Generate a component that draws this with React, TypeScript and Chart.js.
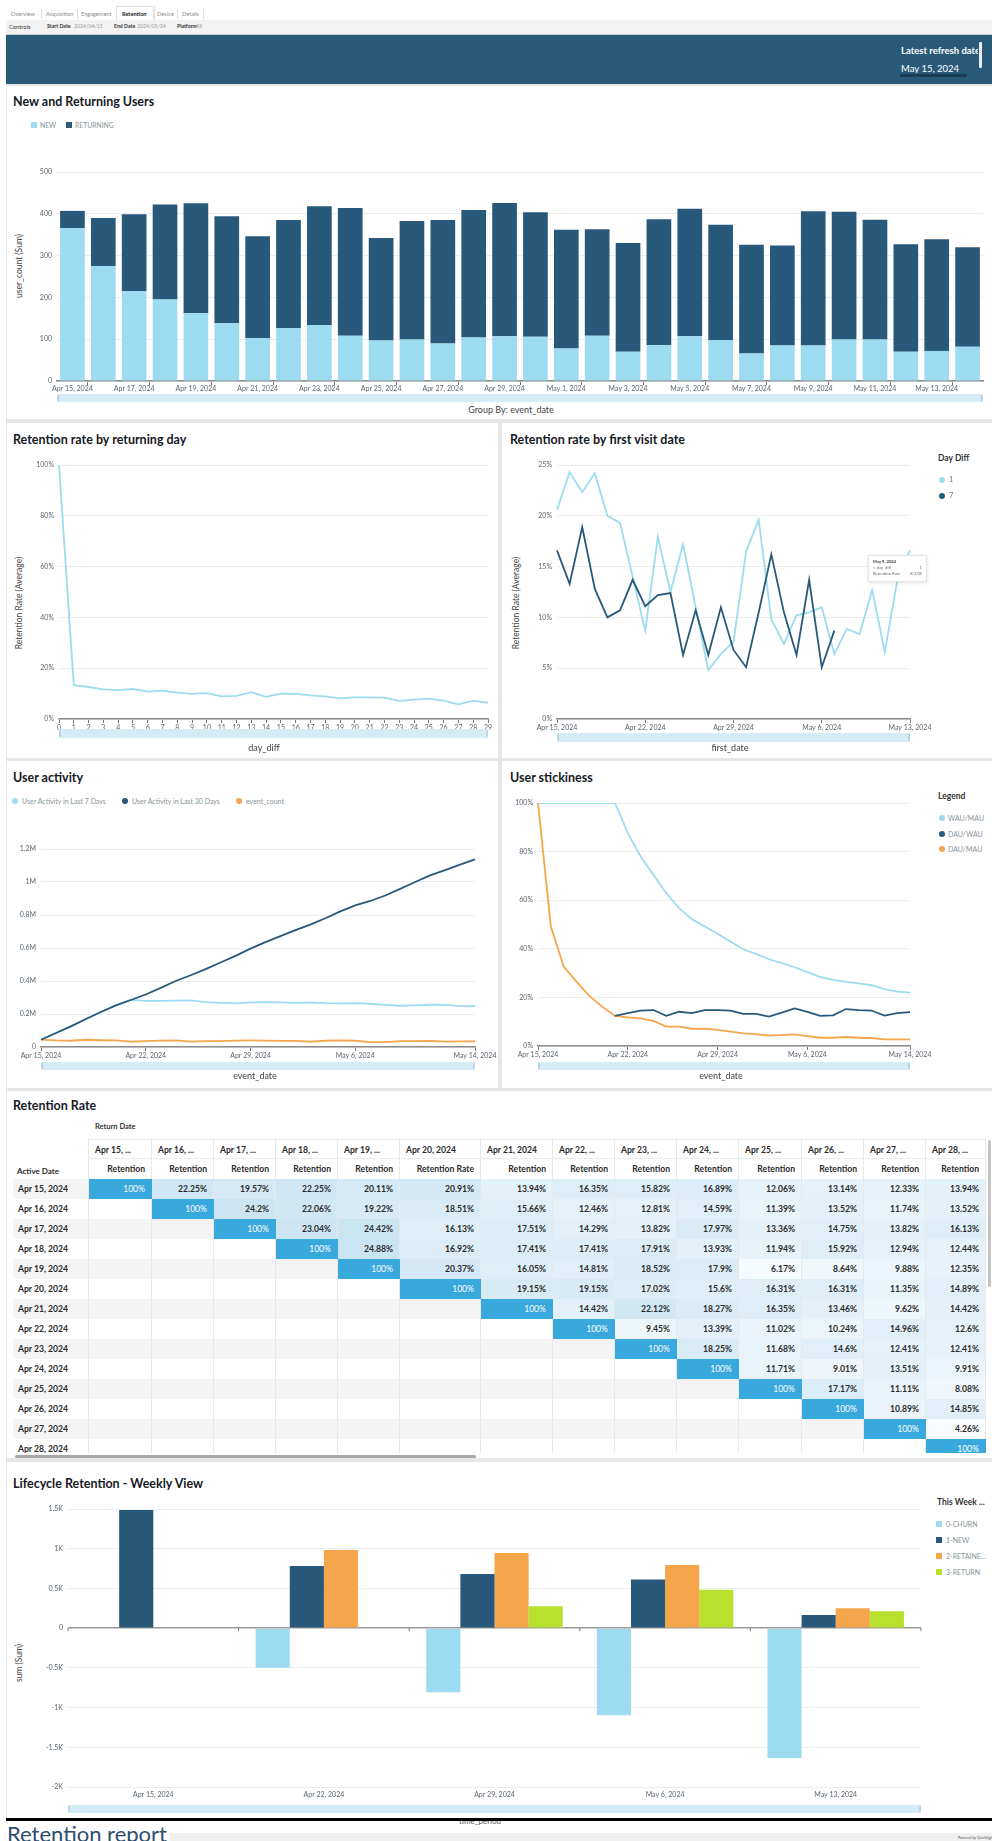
import React, { useEffect, useRef } from 'react';
import { Chart, registerables } from 'chart.js';
Chart.register(...registerables);

// ---------------- DATA ----------------
const dailyDates = ['Apr 15, 2024','Apr 16, 2024','Apr 17, 2024','Apr 18, 2024','Apr 19, 2024','Apr 20, 2024','Apr 21, 2024','Apr 22, 2024','Apr 23, 2024','Apr 24, 2024','Apr 25, 2024','Apr 26, 2024','Apr 27, 2024','Apr 28, 2024','Apr 29, 2024','Apr 30, 2024','May 1, 2024','May 2, 2024','May 3, 2024','May 4, 2024','May 5, 2024','May 6, 2024','May 7, 2024','May 8, 2024','May 9, 2024','May 10, 2024','May 11, 2024','May 12, 2024','May 13, 2024','May 14, 2024'];
const newReturningTicks = ['Apr 15, 2024','Apr 17, 2024','Apr 19, 2024','Apr 21, 2024','Apr 23, 2024','Apr 25, 2024','Apr 27, 2024','Apr 29, 2024','May 1, 2024','May 3, 2024','May 5, 2024','May 7, 2024','May 9, 2024','May 11, 2024','May 13, 2024'];
const newUsers = [366,275,215,195,162,138,103,126,134,108,97,99,90,104,107,106,78,108,70,86,107,98,66,85,85,99,99,70,72,82];
const returningUsers = [41,115,184,227,263,256,243,259,284,306,245,284,295,305,319,298,284,255,260,301,305,276,260,239,321,306,287,257,267,238];

const dayDiffs = ['0','1','2','3','4','5','6','7','8','9','10','11','12','13','14','15','16','17','18','19','20','21','22','23','24','25','26','27','28','29'];
const retentionByDay = [100,13.3,12.6,11.7,11.4,11.8,10.8,11.2,10.4,9.9,10.2,8.9,9.1,10.6,8.7,10.0,9.9,9.3,8.9,8.1,8.5,8.5,8.4,7.1,7.6,8.0,7.2,5.8,7.2,6.4];

const firstVisitDates = dailyDates.slice(0, 29);
const firstVisitTicks = ['Apr 15, 2024','Apr 22, 2024','Apr 29, 2024','May 6, 2024','May 13, 2024'];
const retentionDay1 = [20.6,24.3,22.3,24.2,20.0,19.3,14.0,8.7,17.9,12.5,17.2,11.0,4.8,6.4,7.6,16.5,19.6,9.8,7.4,10.2,10.5,11.0,6.4,8.9,8.33,12.7,6.6,13.7,16.6];
const retentionDay7 = [16.6,13.3,18.9,12.8,10.0,10.7,13.7,11.1,12.2,12.4,6.3,10.7,6.3,11.0,6.8,5.1,10.5,16.2,10.5,6.3,13.7,5.1,8.7,null,null,null,null,null,null];

const activityTicks = ['Apr 15, 2024','Apr 22, 2024','Apr 29, 2024','May 6, 2024','May 14, 2024'];
const activity7 = [44000,85000,125000,170000,212000,252000,285000,280000,279000,281000,282000,272000,268000,265000,270000,272000,271000,268000,270000,266000,265000,266000,262000,255000,250000,252000,256000,255000,248000,247000];
const activity30 = [44000,85000,125000,170000,212000,252000,285000,318000,358000,400000,435000,472000,512000,552000,596000,636000,672000,708000,742000,780000,822000,858000,885000,918000,958000,1000000,1040000,1072000,1105000,1137000];
const eventCount = [45000,40000,38000,44000,41000,40000,33000,36000,39000,40000,33000,36000,36000,39000,40000,39000,37000,37000,32000,38000,40000,38000,30000,29000,36000,36000,37000,33000,34000,34000];

const wauMau = [100,100,100,100,100,100,100,87.6,78.0,70.5,62.9,56.7,52.2,49.2,46.2,43.0,39.8,37.9,35.7,34.1,32.4,30.4,28.4,27.2,26.4,25.8,25.0,23.4,22.4,22.0];
const dauWau = [null,null,null,null,null,null,12.4,13.5,14.6,14.8,12.4,14.1,13.5,14.8,14.8,14.6,13.2,13.2,12.1,13.7,15.5,14.0,12.4,12.6,15.2,14.8,14.6,12.5,13.5,13.9];
const dauMau = [100,49.2,32.7,26.5,20.6,16.2,12.4,11.8,11.4,10.3,8.0,8.0,7.1,7.1,6.6,5.9,5.2,4.9,4.3,4.5,4.8,4.1,3.4,3.4,3.7,3.4,3.3,2.7,2.7,2.7];

const activeDates = ['Apr 15, 2024','Apr 16, 2024','Apr 17, 2024','Apr 18, 2024','Apr 19, 2024','Apr 20, 2024','Apr 21, 2024','Apr 22, 2024','Apr 23, 2024','Apr 24, 2024','Apr 25, 2024','Apr 26, 2024','Apr 27, 2024','Apr 28, 2024'];
const returnDateHeaders = ['Apr 15, ...','Apr 16, ...','Apr 17, ...','Apr 18, ...','Apr 19, ...','Apr 20, 2024','Apr 21, 2024','Apr 22, ...','Apr 23, ...','Apr 24, ...','Apr 25, ...','Apr 26, ...','Apr 27, ...','Apr 28, ...'];
const metricHeaders = ['Retention','Retention','Retention','Retention','Retention','Retention Rate','Retention','Retention','Retention','Retention','Retention','Retention','Retention','Retention'];
const _ = null;
const retentionRows = [
  [100,22.25,19.57,22.25,20.11,20.91,13.94,16.35,15.82,16.89,12.06,13.14,12.33,13.94],
  [_,100,24.2,22.06,19.22,18.51,15.66,12.46,12.81,14.59,11.39,13.52,11.74,13.52],
  [_,_,100,23.04,24.42,16.13,17.51,14.29,13.82,17.97,13.36,14.75,13.82,16.13],
  [_,_,_,100,24.88,16.92,17.41,17.41,17.91,13.93,11.94,15.92,12.94,12.44],
  [_,_,_,_,100,20.37,16.05,14.81,18.52,17.9,6.17,8.64,9.88,12.35],
  [_,_,_,_,_,100,19.15,19.15,17.02,15.6,16.31,16.31,11.35,14.89],
  [_,_,_,_,_,_,100,14.42,22.12,18.27,16.35,13.46,9.62,14.42],
  [_,_,_,_,_,_,_,100,9.45,13.39,11.02,10.24,14.96,12.6],
  [_,_,_,_,_,_,_,_,100,18.25,11.68,14.6,12.41,12.41],
  [_,_,_,_,_,_,_,_,_,100,11.71,9.01,13.51,9.91],
  [_,_,_,_,_,_,_,_,_,_,100,17.17,11.11,8.08],
  [_,_,_,_,_,_,_,_,_,_,_,100,10.89,14.85],
  [_,_,_,_,_,_,_,_,_,_,_,_,100,4.26],
  [_,_,_,_,_,_,_,_,_,_,_,_,_,100],
];

const weeks = ['Apr 15, 2024','Apr 22, 2024','Apr 29, 2024','May 6, 2024','May 13, 2024'];
const churnWeekly = [null,-500,-807,-1097,-1634];
const newWeekly = [1487,781,681,613,164];
const retainedWeekly = [null,983,945,794,252];
const returnWeekly = [null,null,277,483,214];

// ---------------- STYLE ----------------
const FONT = 'Lato, "Open Sans", "Noto Sans", sans-serif';
const LIGHT = '#9ddbf0';
const DARK = '#29597a';
const ORANGE = '#f5a64b';
const GREEN = '#b9e02d';
const TICK_C = '#5b6670';
const GRID = '#ececec';
const AXIS = '#8c8c8c';
const tickFont = { family: FONT, size: 7 };

type Box = { x: number; y: number; w: number; h: number };
type Plot = { l: number; t: number; r: number; b: number };

function ChartCanvas({ box, plot, make }: { box: Box; plot: Plot; make: () => any }) {
  const ref = useRef<HTMLCanvasElement | null>(null);
  useEffect(() => {
    const cfg = make();
    cfg.options = cfg.options || {};
    cfg.options.responsive = false;
    cfg.options.maintainAspectRatio = false;
    cfg.options.animation = false;
    cfg.options.devicePixelRatio = 1;
    cfg.options.layout = { padding: { top: plot.t - box.y, right: box.x + box.w - plot.r, left: 0, bottom: 0 } };
    cfg.options.scales.x.afterFit = (s: any) => { s.height = box.y + box.h - plot.b; };
    cfg.options.scales.y.afterFit = (s: any) => { s.width = plot.l - box.x; };
    cfg.options.plugins = { ...(cfg.options.plugins || {}), legend: { display: false }, tooltip: { enabled: false } };
    const chart = new Chart(ref.current as HTMLCanvasElement, cfg);
    return () => chart.destroy();
  }, []);
  return <canvas ref={ref} width={box.w} height={box.h} style={{ position: 'absolute', left: box.x, top: box.y, width: box.w, height: box.h }} />;
}

function T({ x, y, s = 9, w = 400, c = '#333', anchor = 'left', children, style = {} }: any) {
  const st: any = { position: 'absolute', top: y - s * 0.75, lineHeight: `${s * 1.5}px`, fontSize: s, fontWeight: w, color: c, whiteSpace: 'nowrap', fontFamily: FONT, ...style };
  if (anchor === 'left') st.left = x;
  else if (anchor === 'center') { st.left = x; st.transform = 'translateX(-50%)'; }
  else { st.right = 992 - x; }
  return <div style={st}>{children}</div>;
}

function YTitle({ x, y, text }: any) {
  return <div style={{ position: 'absolute', left: x, top: y, transform: 'translate(-50%,-50%) rotate(-90deg)', fontSize: 8.5, color: '#444', fontFamily: FONT, whiteSpace: 'nowrap' }}>{text}</div>;
}

function ScrollBar({ x1, x2, y, h = 8 }: any) {
  return (
    <div style={{ position: 'absolute', left: x1, top: y, width: x2 - x1, height: h, background: '#d5ebf6' }}>
      <div style={{ position: 'absolute', left: 0, top: 1, width: 2, height: h - 2, background: '#b9d6e6', borderRadius: 1 }} />
      <div style={{ position: 'absolute', right: 0, top: 1, width: 2, height: h - 2, background: '#b9d6e6', borderRadius: 1 }} />
    </div>
  );
}

function Dot({ x, y, c, sq = false }: any) {
  return <div style={{ position: 'absolute', left: x - 3, top: y - 3, width: 6, height: 6, borderRadius: sq ? 0 : 3, background: c }} />;
}

const labelTickCb = (labels: string[], show: string[]) => (v: any, i: number) => (show.includes(labels[i]) ? labels[i] : '');
const markColor = (labels: string[], show: string[]) => (ctx: any) => (show.includes(labels[ctx.index]) ? '#777' : 'rgba(0,0,0,0)');

function pct(v: any) { return v + '%'; }

// ---------------- CHART CONFIGS ----------------
const makeNewReturning = () => ({
  type: 'bar',
  data: {
    labels: dailyDates,
    datasets: [
      { label: 'NEW', data: newUsers, backgroundColor: LIGHT, stack: 's', barPercentage: 0.8, categoryPercentage: 1 },
      { label: 'RETURNING', data: returningUsers, backgroundColor: DARK, stack: 's', barPercentage: 0.8, categoryPercentage: 1 },
    ],
  },
  options: {
    scales: {
      x: {
        stacked: true,
        grid: { drawOnChartArea: false, tickLength: 4, color: (ctx: any) => (ctx.index % 2 === 1 ? '#777' : 'rgba(0,0,0,0)') },
        border: { color: AXIS, width: 1.5 },
        ticks: { autoSkip: false, maxRotation: 0, padding: 0, font: tickFont, color: TICK_C, callback: labelTickCb(dailyDates, newReturningTicks) },
      },
      y: {
        stacked: true, min: 0, max: 500,
        ticks: { stepSize: 100, font: tickFont, color: TICK_C, padding: 5 },
        grid: { color: GRID, drawTicks: false },
        border: { display: false },
      },
    },
  },
});

const makeByDay = () => ({
  type: 'line',
  data: { labels: dayDiffs, datasets: [{ data: retentionByDay, borderColor: LIGHT, borderWidth: 1.8, pointRadius: 0, tension: 0 }] },
  options: {
    scales: {
      x: {
        grid: { drawOnChartArea: false, tickLength: 4, color: '#777' },
        border: { color: AXIS, width: 1.5 },
        ticks: { autoSkip: false, maxRotation: 0, padding: 1, font: tickFont, color: TICK_C },
      },
      y: {
        min: 0, max: 100,
        ticks: { stepSize: 20, font: tickFont, color: TICK_C, padding: 5, callback: pct },
        grid: { color: GRID, drawTicks: false },
        border: { display: false },
      },
    },
  },
});

const makeFirstVisit = () => ({
  type: 'line',
  data: {
    labels: firstVisitDates,
    datasets: [
      { label: '1', data: retentionDay1, borderColor: LIGHT, borderWidth: 1.8, pointRadius: 0, tension: 0, order: 1 },
      { label: '7', data: retentionDay7, borderColor: DARK, borderWidth: 1.8, pointRadius: 0, tension: 0, order: 0 },
    ],
  },
  options: {
    scales: {
      x: {
        grid: { drawOnChartArea: false, tickLength: 4, color: markColor(firstVisitDates, firstVisitTicks) },
        border: { color: AXIS, width: 1.5 },
        ticks: { autoSkip: false, maxRotation: 0, padding: 1, font: tickFont, color: TICK_C, callback: labelTickCb(firstVisitDates, firstVisitTicks) },
      },
      y: {
        min: 0, max: 25,
        ticks: { stepSize: 5, font: tickFont, color: TICK_C, padding: 5, callback: pct },
        grid: { color: GRID, drawTicks: false },
        border: { display: false },
      },
    },
  },
});

const makeActivity = () => ({
  type: 'line',
  data: {
    labels: dailyDates,
    datasets: [
      { label: 'User Activity in Last 7 Days', data: activity7, borderColor: LIGHT, borderWidth: 1.8, pointRadius: 0, tension: 0, order: 1 },
      { label: 'User Activity in Last 30 Days', data: activity30, borderColor: DARK, borderWidth: 1.8, pointRadius: 0, tension: 0, order: 0 },
      { label: 'event_count', data: eventCount, borderColor: ORANGE, borderWidth: 1.8, pointRadius: 0, tension: 0, order: 2 },
    ],
  },
  options: {
    scales: {
      x: {
        grid: { drawOnChartArea: false, tickLength: 4, color: markColor(dailyDates, activityTicks) },
        border: { color: AXIS, width: 1.5 },
        ticks: { autoSkip: false, maxRotation: 0, padding: 1, font: tickFont, color: TICK_C, callback: labelTickCb(dailyDates, activityTicks) },
      },
      y: {
        min: 0, max: 1200000,
        ticks: { stepSize: 200000, font: tickFont, color: TICK_C, padding: 5, callback: (v: number) => (v === 0 ? '0' : v / 1e6 + 'M') },
        grid: { color: GRID, drawTicks: false },
        border: { display: false },
      },
    },
  },
});

const makeStickiness = () => ({
  type: 'line',
  data: {
    labels: dailyDates,
    datasets: [
      { label: 'WAU/MAU', data: wauMau, borderColor: LIGHT, borderWidth: 1.8, pointRadius: 0, tension: 0 },
      { label: 'DAU/WAU', data: dauWau, borderColor: DARK, borderWidth: 1.8, pointRadius: 0, tension: 0 },
      { label: 'DAU/MAU', data: dauMau, borderColor: ORANGE, borderWidth: 1.8, pointRadius: 0, tension: 0 },
    ],
  },
  options: {
    scales: {
      x: {
        grid: { drawOnChartArea: false, tickLength: 4, color: markColor(dailyDates, activityTicks) },
        border: { color: AXIS, width: 1.5 },
        ticks: { autoSkip: false, maxRotation: 0, padding: 1, font: tickFont, color: TICK_C, callback: labelTickCb(dailyDates, activityTicks) },
      },
      y: {
        min: 0, max: 100,
        ticks: { stepSize: 20, font: tickFont, color: TICK_C, padding: 5, callback: pct },
        grid: { color: GRID, drawTicks: false },
        border: { display: false },
      },
    },
  },
});

const zeroTicks = {
  id: 'zeroTicks',
  afterDatasetsDraw(chart: any) {
    const x = chart.scales.x, y = chart.scales.y, ctx = chart.ctx;
    const y0 = y.getPixelForValue(0);
    ctx.save();
    ctx.strokeStyle = '#777';
    ctx.lineWidth = 1;
    const n = chart.data.labels.length;
    for (let i = 0; i <= n; i++) {
      let px;
      if (i === 0) px = chart.chartArea.left;
      else if (i === n) px = chart.chartArea.right;
      else px = (x.getPixelForValue(i - 1) + x.getPixelForValue(i)) / 2;
      ctx.beginPath(); ctx.moveTo(px, y0); ctx.lineTo(px, y0 + 3); ctx.stroke();
    }
    ctx.restore();
  },
};

const makeLifecycle = () => ({
  type: 'bar',
  data: {
    labels: weeks,
    datasets: [
      { label: '0-CHURN', data: churnWeekly, backgroundColor: LIGHT, barPercentage: 1, categoryPercentage: 0.8 },
      { label: '1-NEW', data: newWeekly, backgroundColor: DARK, barPercentage: 1, categoryPercentage: 0.8 },
      { label: '2-RETAINED', data: retainedWeekly, backgroundColor: ORANGE, barPercentage: 1, categoryPercentage: 0.8 },
      { label: '3-RETURN', data: returnWeekly, backgroundColor: GREEN, barPercentage: 1, categoryPercentage: 0.8 },
    ],
  },
  plugins: [zeroTicks],
  options: {
    scales: {
      x: {
        grid: { display: false, drawTicks: false, tickLength: 0 },
        border: { display: false },
        ticks: { autoSkip: false, maxRotation: 0, padding: 4, font: tickFont, color: TICK_C },
      },
      y: {
        min: -2000, max: 1500,
        ticks: { stepSize: 500, font: tickFont, color: TICK_C, padding: 5, callback: (v: number) => (v === 0 ? '0' : v / 1000 + 'K') },
        grid: { color: (c: any) => (c.tick && c.tick.value === 0 ? '#9a9a9a' : GRID), lineWidth: (c: any) => (c.tick && c.tick.value === 0 ? 1.5 : 1), drawTicks: false },
        border: { display: false },
      },
    },
  },
});

// ---------------- TABLE ----------------
const colWidths = [63, 62, 62, 62, 62, 81, 72, 62, 62, 62, 63, 62, 62, 60];
function mix(a: number[], b: number[], t: number) {
  const c = a.map((v, i) => Math.round(v + (b[i] - v) * t));
  return `rgb(${c[0]},${c[1]},${c[2]})`;
}
function heat(v: number) {
  if (v >= 100) return '#39a8dc';
  const t = Math.max(0, Math.min(1, (v - 4) / 21));
  return mix([250, 252, 254], [201, 228, 242], t);
}

function RetentionTable() {
  const cellBase: any = { height: 20, lineHeight: '20px', boxSizing: 'border-box', padding: '0 6px', borderRight: '1px solid #e8e8e8', fontSize: 8.6, whiteSpace: 'nowrap', overflow: 'hidden', flex: 'none' };
  return (
    <div style={{ position: 'absolute', left: 13, top: 1139, width: 973, height: 314, overflow: 'hidden', fontFamily: FONT, color: '#2b2b2b' }}>
      <div style={{ display: 'flex', height: 20 }}>
        <div style={{ ...cellBase, width: 76, borderRight: '1px solid #e8e8e8' }} />
        {returnDateHeaders.map((h, i) => (
          <div key={i} style={{ ...cellBase, width: colWidths[i], fontWeight: 700, textAlign: 'left', borderTop: '1px solid #ececec', borderBottom: '1px solid #ececec' }}>{h}</div>
        ))}
      </div>
      <div style={{ display: 'flex', height: 20 }}>
        <div style={{ ...cellBase, width: 76, fontWeight: 700, padding: '0 4px', fontSize: 8, lineHeight: '24px' }}>Active Date</div>
        {metricHeaders.map((h, i) => (
          <div key={i} style={{ ...cellBase, width: colWidths[i], fontWeight: 700, textAlign: 'right' }}>{h}</div>
        ))}
      </div>
      {activeDates.map((d, r) => {
        const rowBg = r % 2 === 0 ? '#f4f4f4' : '#ffffff';
        return (
          <div key={d} style={{ display: 'flex', height: 20 }}>
            <div style={{ ...cellBase, width: 76, fontWeight: 700, background: rowBg, padding: '0 5px' }}>{d}</div>
            {retentionRows[r].map((v, c) => (
              <div key={c} style={{ ...cellBase, width: colWidths[c], textAlign: 'right', fontWeight: v === 100 ? 400 : 700, color: v === 100 ? '#ffffff' : '#2b2b2b', background: v == null ? rowBg : heat(v), borderRight: v === 100 ? '1px solid #39a8dc' : cellBase.borderRight }}>
                {v == null ? '' : v + '%'}
              </div>
            ))}
          </div>
        );
      })}
    </div>
  );
}

// ---------------- APP ----------------
export default function App() {
  const panels = [
    { x: 7, y: 86, w: 990, h: 333 },
    { x: 7, y: 423, w: 491, h: 335 },
    { x: 502, y: 423, w: 495, h: 335 },
    { x: 7, y: 761, w: 491, h: 327 },
    { x: 502, y: 761, w: 495, h: 327 },
    { x: 7, y: 1091, w: 990, h: 367 },
    { x: 7, y: 1462, w: 990, h: 360 },
  ];
  const tabs = [
    { t: 'Overview', x: 11 }, { t: 'Acquisition', x: 46 }, { t: 'Engagement', x: 81 },
    { t: 'Retention', x: 122, b: true }, { t: 'Device', x: 157 }, { t: 'Details', x: 182 },
  ];
  const seps = [41, 77, 116, 153, 177, 203];
  return (
    <div style={{ position: 'absolute', left: 0, top: 0, width: 992, height: 1841, overflow: 'hidden', background: '#ffffff', fontFamily: FONT }}>
      {/* top tabs */}
      <div style={{ position: 'absolute', left: 116, top: 6, width: 37, height: 15, background: '#fff', border: '1px solid #e2e2e2', borderBottom: 'none' }} />
      {tabs.map((t) => (
        <T key={t.t} x={t.x} y={14} s={5.6} w={t.b ? 700 : 400} c={t.b ? '#222' : '#8c8c8c'}>{t.t}</T>
      ))}
      {seps.map((x) => <div key={x} style={{ position: 'absolute', left: x, top: 9, width: 1, height: 10, background: '#e0e0e0' }} />)}
      <div style={{ position: 'absolute', left: 6, top: 20, width: 986, height: 14, background: '#f3f3f3', borderBottom: '1px solid #cfcfcf' }} />
      <T x={9} y={27} s={5.8} c="#333">Controls</T>
      <T x={47} y={27} s={5.2} w={700} c="#333">Start Date</T>
      <T x={74} y={27} s={5.2} c="#999">2024/04/15</T>
      <T x={114} y={27} s={5.2} w={700} c="#333">End Date</T>
      <T x={137} y={27} s={5.2} c="#999">2024/05/14</T>
      <T x={177} y={27} s={5.2} w={700} c="#333">Platform</T>
      <T x={196} y={27} s={5.2} c="#999">All</T>

      {/* header band */}
      <div style={{ position: 'absolute', left: 6, top: 35, width: 986, height: 49, background: '#2a5a79' }} />
      <div style={{ position: 'absolute', left: 901, top: 44, width: 77, height: 18, overflow: 'hidden' }}>
        <div style={{ position: 'absolute', left: 0, top: 1, fontSize: 9.5, fontWeight: 700, color: '#ffffff', whiteSpace: 'nowrap', fontFamily: FONT }}>Latest refresh date</div>
      </div>
      <div style={{ position: 'absolute', left: 979, top: 42, width: 3, height: 26, background: '#e8eef2', borderRadius: 1 }} />
      <div style={{ position: 'absolute', left: 901, top: 63, width: 70, height: 10, overflow: 'hidden' }}>
        <div style={{ position: 'absolute', left: 0, top: 0, fontSize: 9.5, color: '#ffffff', whiteSpace: 'nowrap', fontFamily: FONT }}>May 15, 2024</div>
      </div>
      <div style={{ position: 'absolute', left: 900, top: 74, width: 67, height: 3, background: '#1c3c52', borderRadius: 1 }} />

      {/* dashboard background & panels */}
      <div style={{ position: 'absolute', left: 6, top: 84, width: 986, height: 1734, background: '#e6e6e6' }} />
      {panels.map((p, i) => <div key={i} style={{ position: 'absolute', left: p.x, top: p.y, width: p.w, height: p.h, background: '#ffffff' }} />)}

      {/* Panel A: New and Returning Users */}
      <T x={13} y={102} s={12.5} w={700} c="#16191f">New and Returning Users</T>
      <Dot x={34} y={125} c={LIGHT} sq />
      <T x={40} y={125} s={6.8} c="#8a9499">NEW</T>
      <Dot x={69} y={125} c={DARK} sq />
      <T x={75} y={125} s={6.8} c="#8a9499">RETURNING</T>
      <YTitle x={19} y={266} text="user_count (Sum)" />
      <ChartCanvas box={{ x: 8, y: 150, w: 980, h: 246 }} plot={{ l: 57, t: 172, r: 983, b: 381 }} make={makeNewReturning} />
      <ScrollBar x1={57} x2={983} y={394} h={8} />
      <T x={511} y={410} s={9} c="#444" anchor="center">Group By: event_date</T>

      {/* Panel B: Retention rate by returning day */}
      <T x={13} y={440} s={12.5} w={700} c="#16191f">Retention rate by returning day</T>
      <YTitle x={19} y={603} text="Retention Rate (Average)" />
      <ChartCanvas box={{ x: 8, y: 455, w: 488, h: 281 }} plot={{ l: 59, t: 465, r: 488, b: 719 }} make={makeByDay} />
      <ScrollBar x1={59} x2={488} y={729} h={9} />
      <T x={264} y={748} s={9} c="#444" anchor="center">day_diff</T>

      {/* Panel C: Retention rate by first visit date */}
      <T x={510} y={440} s={12.5} w={700} c="#16191f">Retention rate by first visit date</T>
      <YTitle x={516} y={603} text="Retention Rate (Average)" />
      <ChartCanvas box={{ x: 505, y: 455, w: 430, h: 281 }} plot={{ l: 557, t: 465, r: 910, b: 719 }} make={makeFirstVisit} />
      <ScrollBar x1={557} x2={910} y={733} h={9} />
      <T x={730} y={748} s={9} c="#444" anchor="center">first_date</T>
      <T x={938} y={458} s={8.5} w={700} c="#333">Day Diff</T>
      <Dot x={942} y={480} c={LIGHT} />
      <T x={949} y={480} s={7.5} c="#777">1</T>
      <Dot x={942} y={496} c={DARK} />
      <T x={949} y={496} s={7.5} c="#777">7</T>
      <div style={{ position: 'absolute', left: 868, top: 555, width: 59, height: 27, background: '#fff', border: '1px solid #e4e4e4', boxShadow: '0 1px 3px rgba(0,0,0,0.12)', fontFamily: FONT, fontSize: 4.2, color: '#666', lineHeight: '6px', padding: '3px 4px', boxSizing: 'border-box' }}>
        <div style={{ fontWeight: 700, color: '#444' }}>May 9, 2024</div>
        <div style={{ display: 'flex', justifyContent: 'space-between' }}><span><span style={{ color: LIGHT }}>●</span> day_diff</span><span>1</span></div>
        <div style={{ display: 'flex', justifyContent: 'space-between' }}><span>Retention Rate</span><span>8.33%</span></div>
      </div>

      {/* Panel D: User activity */}
      <T x={13} y={778} s={12.5} w={700} c="#16191f">User activity</T>
      <Dot x={15} y={801} c={LIGHT} />
      <T x={22} y={801} s={7} c="#8a9499">User Activity in Last 7 Days</T>
      <Dot x={125} y={801} c={DARK} />
      <T x={132} y={801} s={7} c="#8a9499">User Activity in Last 30 Days</T>
      <Dot x={239} y={801} c={ORANGE} />
      <T x={246} y={801} s={7} c="#8a9499">event_count</T>
      <ChartCanvas box={{ x: 8, y: 835, w: 497, h: 229 }} plot={{ l: 41, t: 849, r: 475, b: 1047 }} make={makeActivity} />
      <ScrollBar x1={41} x2={475} y={1062} h={8} />
      <T x={255} y={1076} s={9} c="#444" anchor="center">event_date</T>

      {/* Panel E: User stickiness */}
      <T x={510} y={778} s={12.5} w={700} c="#16191f">User stickiness</T>
      <ChartCanvas box={{ x: 505, y: 790, w: 430, h: 274 }} plot={{ l: 538, t: 803, r: 910, b: 1046 }} make={makeStickiness} />
      <ScrollBar x1={538} x2={910} y={1062} h={8} />
      <T x={721} y={1076} s={9} c="#444" anchor="center">event_date</T>
      <T x={938} y={796} s={8.5} w={700} c="#333">Legend</T>
      <Dot x={942} y={818} c={LIGHT} />
      <T x={948} y={818} s={7} c="#8a9499">WAU/MAU</T>
      <Dot x={942} y={834} c={DARK} />
      <T x={948} y={834} s={7} c="#8a9499">DAU/WAU</T>
      <Dot x={942} y={849} c={ORANGE} />
      <T x={948} y={849} s={7} c="#8a9499">DAU/MAU</T>

      {/* Panel F: Retention Rate table */}
      <T x={13} y={1106} s={12.5} w={700} c="#16191f">Retention Rate</T>
      <T x={95} y={1127} s={7.5} w={700} c="#333">Return Date</T>
      <RetentionTable />
      <div style={{ position: 'absolute', left: 988, top: 1140, width: 3, height: 147, background: '#c4c4c4', borderRadius: 2 }} />
      <div style={{ position: 'absolute', left: 15, top: 1455, width: 461, height: 3, background: '#a9a9a9', borderRadius: 2 }} />

      {/* Panel G: Lifecycle */}
      <T x={13} y={1484} s={12.5} w={700} c="#16191f">Lifecycle Retention - Weekly View</T>
      <YTitle x={19} y={1663} text="sum (Sum)" />
      <ChartCanvas box={{ x: 8, y: 1495, w: 922, h: 305 }} plot={{ l: 68, t: 1509, r: 921, b: 1787 }} make={makeLifecycle} />
      <ScrollBar x1={68} x2={921} y={1805} h={8} />
      <T x={937} y={1502} s={8.5} w={700} c="#333">This Week ...</T>
      <Dot x={939} y={1524} c={LIGHT} sq />
      <T x={946} y={1524} s={7} c="#8a9499">0-CHURN</T>
      <Dot x={939} y={1540} c={DARK} sq />
      <T x={946} y={1540} s={7} c="#8a9499">1-NEW</T>
      <Dot x={939} y={1556} c={ORANGE} sq />
      <T x={946} y={1556} s={7} c="#8a9499">2-RETAINE...</T>
      <Dot x={939} y={1572} c={GREEN} sq />
      <T x={946} y={1572} s={7} c="#8a9499">3-RETURN</T>
      <T x={480} y={1821} s={8} c="#555" anchor="center">time_period</T>

      {/* bottom */}
      <div style={{ position: 'absolute', left: 6, top: 1818, width: 986, height: 3, background: '#000' }} />
      <div style={{ position: 'absolute', left: 170, top: 1833, width: 822, height: 8, background: '#f0f0f0' }} />
      <div style={{ position: 'absolute', left: 7, top: 1822, fontSize: 22, lineHeight: '24px', color: '#2d4d6d', fontFamily: FONT, whiteSpace: 'nowrap' }}>Retention report</div>
      <div style={{ position: 'absolute', left: 958, top: 1836, fontSize: 3.5, color: '#555', fontFamily: FONT, whiteSpace: 'nowrap' }}>Powered by QuickSight</div>
    </div>
  );
}
